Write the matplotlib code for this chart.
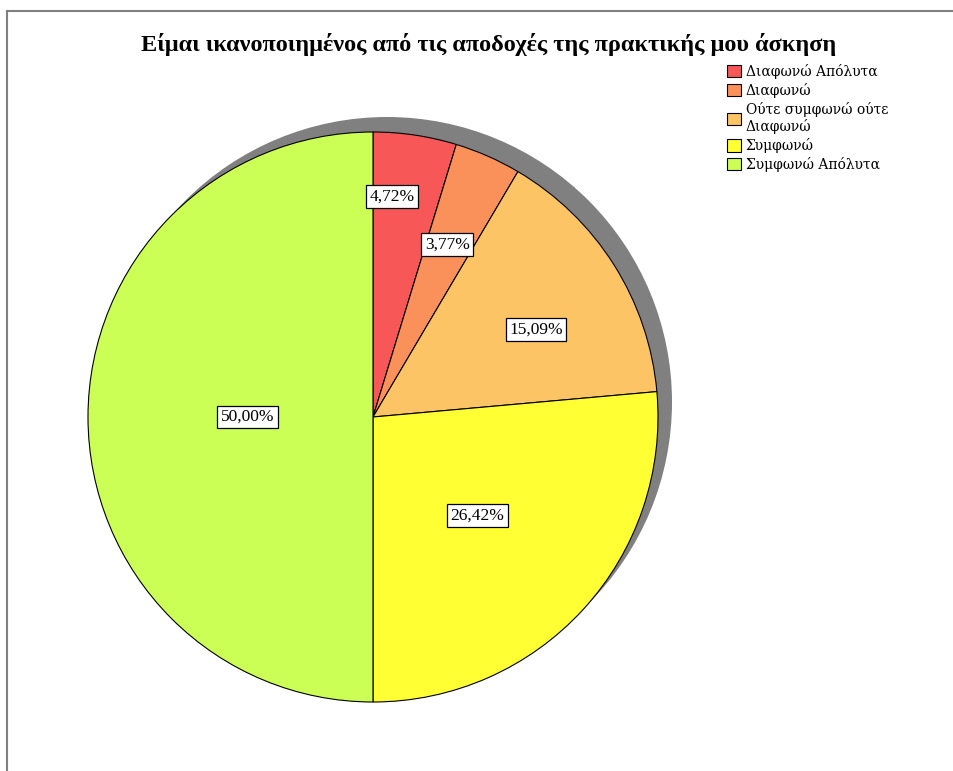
import numpy as np
import matplotlib
matplotlib.use("Agg")
import matplotlib.pyplot as plt
from matplotlib.patches import Circle, Patch
from matplotlib.lines import Line2D

# satisfaction with internship pay
categories = ['Διαφωνώ Απόλυτα', 'Διαφωνώ', 'Ούτε συμφωνώ ούτε\nΔιαφωνώ',
              'Συμφωνώ', 'Συμφωνώ Απόλυτα']
percents = [4.72, 3.77, 15.09, 26.42, 50.00]
colors = ['#F75757', '#FA915A', '#FDC466', '#FFFF33', '#CCFF55']
title = 'Είμαι ικανοποιημένος από τις αποδοχές της πρακτικής μου άσκηση'

W, H = 954, 771
fig = plt.figure(figsize=(W / 100, H / 100), dpi=100)
fig.patch.set_facecolor('white')
ax = fig.add_axes([0, 0, 1, 1])

cx, cy, R = 373, H - 417, 285

# drop shadow behind the pie
ax.add_patch(Circle((cx + 14, cy + 15), R, color='#808080', zorder=0, lw=0))

wedges, _ = ax.pie(percents, colors=colors, startangle=90, counterclock=False,
                   center=(cx, cy), radius=R,
                   wedgeprops=dict(edgecolor='black', linewidth=0.8, zorder=1))

# label placement along each wedge
label_r = [0.775, 0.66, 0.65, 0.505, 0.44]
label_dang = [3.5, 0.5, -4.0, -1.0, 0.0]
for w, p, rf, da in zip(wedges, percents, label_r, label_dang):
    ang = np.deg2rad((w.theta1 + w.theta2) / 2 + da)
    x = cx + rf * R * np.cos(ang)
    y = cy + rf * R * np.sin(ang)
    ax.text(x, y, f'{p:.2f}%'.replace('.', ','), ha='center', va='center',
            fontsize=12.5, family='Liberation Serif', zorder=5,
            bbox=dict(boxstyle='square,pad=0.2', fc='white', ec='black', lw=0.9))

ax.set_xlim(0, W)
ax.set_ylim(0, H)
ax.set_aspect('equal')
ax.axis('off')

fig.text(489 / W, 1 - 45 / H, title, ha='center', va='center',
         fontsize=17.5, fontweight='bold', family='Liberation Serif')

handles = [Patch(facecolor=c, edgecolor='black', linewidth=0.8) for c in colors]
fig.legend(handles, categories, loc='upper left',
           bbox_to_anchor=(727 / W, 1 - 64 / H), frameon=False,
           prop=dict(family='DejaVu Serif', size=10),
           handlelength=1.0, handleheight=1.0, handletextpad=0.35,
           labelspacing=0.28, borderpad=0, borderaxespad=0)

# outer frame (left and top edges)
fig.add_artist(Line2D([7 / W, 7 / W], [0, 1 - 11 / H], color='#808080', lw=1.5))
fig.add_artist(Line2D([7 / W, 1], [1 - 11 / H, 1 - 11 / H], color='#808080', lw=1.5))

fig.savefig('out.png', dpi=100, facecolor='white')
